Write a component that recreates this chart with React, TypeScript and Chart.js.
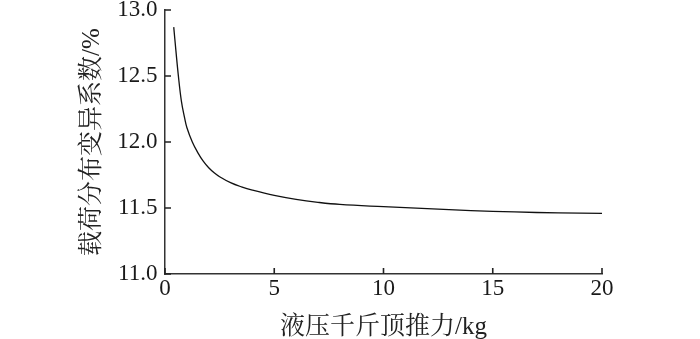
import React, { useEffect, useRef } from "react";
import { Chart, registerables } from "chart.js";

Chart.register(...registerables);

const thrustKg = [0.4, 0.5, 0.6, 0.75, 0.9, 1.0, 1.25, 1.5, 1.75, 2.0, 2.25, 2.5, 3.0, 3.5, 4.0, 5.0, 6.0, 7.0, 8.0, 10.0, 12.0, 14.0, 16.0, 18.0, 20.0];
const cvPercent = [12.87, 12.69, 12.52, 12.31, 12.18, 12.11, 12.0, 11.92, 11.855, 11.805, 11.767, 11.737, 11.692, 11.66, 11.635, 11.595, 11.565, 11.543, 11.527, 11.51, 11.495, 11.48, 11.47, 11.463, 11.459];
const xTicks = [0, 5, 10, 15, 20];
const yTicks = [11.0, 11.5, 12.0, 12.5, 13.0];
const xTitle = "液压千斤顶推力/kg";
const yTitle = "载荷分布变异系数/%";

const FONT = '"Liberation Serif", "Times New Roman", "Noto Serif CJK SC", "Noto Sans CJK SC", serif';
const AXIS_COLOR = "#333";

const innerTicks = {
  id: "innerTicks",
  afterDatasetsDraw(chart: any) {
    const { ctx, chartArea, scales } = chart;
    const len = 6;
    ctx.save();
    ctx.strokeStyle = "#222";
    ctx.lineWidth = 1.6;
    ctx.beginPath();
    xTicks.forEach((v) => {
      const px = scales.x.getPixelForValue(v);
      ctx.moveTo(px, chartArea.bottom);
      ctx.lineTo(px, chartArea.bottom - len);
    });
    yTicks.forEach((v) => {
      const py = scales.y.getPixelForValue(v);
      ctx.moveTo(chartArea.left, py);
      ctx.lineTo(chartArea.left + len, py);
    });
    ctx.stroke();
    ctx.restore();
  },
};

export default function App() {
  const ref = useRef<HTMLCanvasElement | null>(null);
  useEffect(() => {
    if (!ref.current) return;
    const chart = new Chart(ref.current, {
      type: "line",
      data: {
        datasets: [
          {
            data: thrustKg.map((x, i) => ({ x, y: cvPercent[i] })),
            borderColor: "#111",
            borderWidth: 1.3,
            pointRadius: 0,
            tension: 0.4,
            fill: false,
          },
        ],
      },
      plugins: [innerTicks],
      options: {
        animation: false,
        responsive: true,
        maintainAspectRatio: false,
        layout: { padding: { left: 0, right: 98, top: 10, bottom: 0 } },
        plugins: { legend: { display: false }, tooltip: { enabled: false } },
        scales: {
          x: {
            type: "linear",
            min: 0,
            max: 20,
            afterBuildTicks: (s: any) => {
              s.ticks = xTicks.map((v) => ({ value: v }));
            },
            ticks: {
              padding: 1,
              color: "#1a1a1a",
              font: { family: FONT, size: 23 },
              maxRotation: 0,
              autoSkip: false,
            },
            grid: {
              display: true,
              drawOnChartArea: false,
              drawTicks: false,
            },
            border: { display: true, color: AXIS_COLOR, width: 1.5 },
            title: {
              display: true,
              text: xTitle,
              color: "#222",
              font: { family: FONT, size: 25 },
              padding: { top: 0, bottom: -3 },
            },
            afterFit: (s: any) => {
              s.height = 65;
              s.paddingLeft = 0;
              s.paddingRight = 0;
            },
          },
          y: {
            type: "linear",
            min: 11,
            max: 13,
            afterBuildTicks: (s: any) => {
              s.ticks = yTicks.map((v) => ({ value: v }));
            },
            ticks: {
              padding: 7.5,
              color: "#1a1a1a",
              font: { family: FONT, size: 23 },
              autoSkip: false,
              callback: (v: any) => Number(v).toFixed(1),
            },
            grid: {
              display: true,
              drawOnChartArea: false,
              drawTicks: false,
            },
            border: { display: true, color: AXIS_COLOR, width: 1.5 },
            title: {
              display: true,
              text: yTitle,
              color: "#222",
              font: { family: FONT, size: 25 },
              padding: { top: 77, bottom: 0 },
            },
            afterFit: (s: any) => {
              s.width = 165;
              s.paddingTop = 0;
              s.paddingBottom = 0;
            },
          },
        },
      },
    });
    return () => chart.destroy();
  }, []);
  return (
    <div style={{ position: "fixed", left: 0, top: 0, width: 700, height: 339, background: "#fff" }}>
      <canvas ref={ref} />
    </div>
  );
}
